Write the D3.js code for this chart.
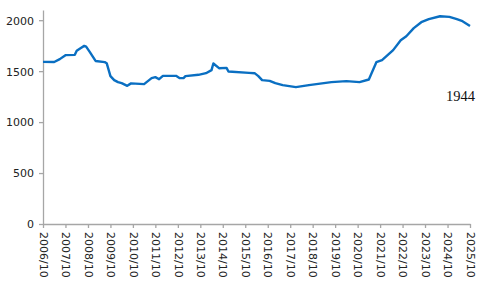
<!DOCTYPE html>
<html>
<head>
<meta charset="utf-8">
<script src="https://cdn.jsdelivr.net/npm/d3@7"></script>
<style>
  html, body { margin: 0; padding: 0; background: #fff; }
  svg { display: block; }
  .axis text { font-family: "DejaVu Sans", Verdana, sans-serif; font-size: 11px; fill: #222; }
  .axis path, .axis line { stroke: #a6a6a6; stroke-width: 1.3; }
</style>
</head>
<body>
<div id="chart"></div>
<script>
// readings taken off the reference line
const dates = [
  '2006-10','2007-04','2007-07','2007-10','2008-03','2008-04','2008-06','2008-08','2008-09','2008-11',
  '2009-02','2009-07','2009-08','2009-10','2009-12','2010-02','2010-04','2010-07','2010-09','2011-04',
  '2011-08','2011-10','2011-12','2012-02','2012-09','2012-11','2013-01','2013-02','2013-09','2014-01',
  '2014-04','2014-05','2014-08','2014-12','2015-01','2015-12','2016-03','2016-05','2016-07','2016-11',
  '2017-02','2017-06','2018-01','2018-08','2019-08','2020-04','2020-11','2021-04','2021-08','2021-11',
  '2022-05','2022-09','2022-12','2023-04','2023-08','2023-12','2024-06','2024-11','2025-03','2025-06',
  '2025-10'
];
const values = [
  1591, 1590, 1618, 1657, 1660, 1700, 1725, 1748, 1740, 1686,
  1600, 1588, 1578, 1451, 1412, 1392, 1382, 1356, 1380, 1373,
  1431, 1441, 1421, 1454, 1454, 1431, 1431, 1451, 1464, 1480,
  1510, 1575, 1529, 1532, 1497, 1483, 1480, 1451, 1412, 1405,
  1382, 1363, 1343, 1363, 1392, 1402, 1392, 1418, 1588, 1608,
  1706, 1804, 1843, 1922, 1980, 2010, 2039, 2033, 2010, 1990,
  1944
];
const yTicks = [0, 500, 1000, 1500, 2000];
const tickYears = d3.range(2006, 2026);
const lastLabel = '1944';

const width = 500, height = 287;
const margin = { left: 43, right: 30, top: 10, bottom: 63 };

const parse = d3.timeParse('%Y-%m');
const data = dates.map((d, i) => ({ date: parse(d), value: values[i] }));

const svg = d3.select('#chart').append('svg')
  .attr('width', width)
  .attr('height', height);

const x = d3.scaleTime()
  .domain([parse('2006-10'), parse('2025-10')])
  .range([margin.left, width - margin.right]);

const y = d3.scaleLinear()
  .domain([0, 2100])
  .range([height - margin.bottom, margin.top]);

// y axis
svg.append('g')
  .attr('class', 'axis')
  .attr('transform', `translate(${margin.left},0)`)
  .call(d3.axisLeft(y).tickValues(yTicks).tickFormat(d3.format('d')).tickSize(4).tickSizeOuter(0).tickPadding(5))
  .call(g => g.selectAll('text').attr('dy', '0.35em'));

// x axis, a tick every October
const xTicks = tickYears.map(yr => new Date(yr, 9, 1));
const xAxis = svg.append('g')
  .attr('class', 'axis')
  .attr('transform', `translate(0,${height - margin.bottom})`)
  .call(d3.axisBottom(x).tickValues(xTicks).tickFormat(d3.timeFormat('%Y/%m')).tickSize(4).tickSizeOuter(0));

xAxis.selectAll('text')
  .attr('transform', 'rotate(90)')
  .attr('x', 8)
  .attr('y', 0)
  .attr('dy', '0.35em')
  .style('text-anchor', 'start');

// the series line
const line = d3.line()
  .x(d => x(d.date))
  .y(d => y(d.value));

svg.append('path')
  .datum(data)
  .attr('fill', 'none')
  .attr('stroke', '#0a6fc2')
  .attr('stroke-width', 2.4)
  .attr('stroke-linejoin', 'round')
  .attr('d', line);

// latest value label
svg.append('text')
  .attr('x', x(data[data.length - 1].date) + 5)
  .attr('y', 101)
  .attr('text-anchor', 'end')
  .style('font-family', '"Liberation Serif", "Times New Roman", serif')
  .style('font-size', '14.5px')
  .style('fill', '#111')
  .text(lastLabel);
</script>
</body>
</html>
